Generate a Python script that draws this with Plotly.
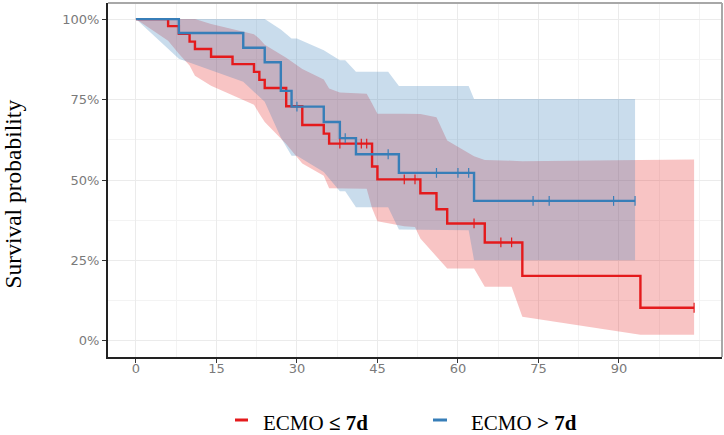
import bisect
import plotly.graph_objects as go

# ---------------- data ----------------
group_names = ["ECMO <b>≤ 7d</b>", "ECMO <b>&gt; 7d</b>"]

# Kaplan-Meier steps, ECMO <= 7d
red_time = [0, 6, 8, 10, 11, 14, 18, 22, 23, 24, 28, 31, 35, 36, 44, 45, 53, 56, 58, 65, 72, 94]
red_surv = [1.0, 0.978, 0.954, 0.930, 0.907, 0.883, 0.860, 0.836, 0.811, 0.786, 0.729, 0.671,
            0.644, 0.613, 0.542, 0.502, 0.459, 0.409, 0.365, 0.306, 0.202, 0.103]
red_last = 104
red_censor = [38, 42, 43, 50, 52, 63, 68, 70, 104]

# confidence band vertices, ECMO <= 7d
red_band_t = [0, 6, 8, 10, 11, 14, 18, 22, 23, 24, 28, 31, 35, 36, 38, 43, 44, 45, 50, 52,
              53, 56, 58, 63, 65, 70, 72, 94, 104]
red_band_lo = [1.0, 0.933, 0.892, 0.856, 0.824, 0.793, 0.763, 0.734, 0.706, 0.680, 0.612, 0.551,
               0.513, 0.474, 0.473, 0.473, 0.412, 0.372, 0.356, 0.354, 0.318, 0.261, 0.225,
               0.225, 0.168, 0.168, 0.075, 0.019, 0.019]
red_band_hi = [1.0, 1.0, 1.0, 1.0, 1.0, 0.985, 0.968, 0.953, 0.939, 0.920, 0.880, 0.845, 0.812,
               0.784, 0.772, 0.768, 0.738, 0.706, 0.706, 0.706, 0.705, 0.695, 0.623, 0.574,
               0.562, 0.560, 0.558, 0.562, 0.564]

# Kaplan-Meier steps, ECMO > 7d
blue_time = [0, 8, 20, 24, 27, 29, 35, 38, 41, 49, 63]
blue_surv = [1.0, 0.957, 0.911, 0.866, 0.777, 0.728, 0.680, 0.630, 0.580, 0.522, 0.435]
blue_last = 93
blue_censor = [30, 39, 47, 56, 60, 62, 74, 77, 89, 93]

# confidence band vertices, ECMO > 7d
blue_band_t = [0, 8, 20, 24, 27, 29, 30, 35, 38, 39, 41, 47, 49, 62, 63, 93]
blue_band_lo = [1.0, 0.877, 0.805, 0.743, 0.632, 0.575, 0.575, 0.525, 0.465, 0.465, 0.415,
                0.415, 0.346, 0.344, 0.251, 0.251]
blue_band_hi = [1.0, 1.0, 1.0, 1.0, 0.968, 0.940, 0.940, 0.903, 0.872, 0.872, 0.836, 0.836,
                0.792, 0.792, 0.752, 0.752]

x_ticks = [0, 15, 30, 45, 60, 75, 90]
y_ticks = [0, 0.25, 0.5, 0.75, 1.0]
y_tick_labels = ["0%", "25%", "50%", "75%", "100%"]

# ---------------- styling ----------------
RED = "#E41A1C"
BLUE = "#377EB8"
RED_FILL = "rgba(228,26,28,0.26)"
BLUE_FILL = "rgba(55,126,184,0.27)"
W, H = 724, 435
ML, MR, MT, MB = 108, 2, 3, 78
PW, PH = W - ML - MR, H - MT - MB


def px_x(px):
    return (px - ML) / PW


def px_y(py):
    return (H - MB - py) / PH


def step_value(times, surv, t):
    i = bisect.bisect_right(times, t) - 1
    return surv[i]


fig = go.Figure()

# confidence bands
for bt, lo, hi, fc in [(red_band_t, red_band_lo, red_band_hi, RED_FILL),
                       (blue_band_t, blue_band_lo, blue_band_hi, BLUE_FILL)]:
    fig.add_trace(go.Scatter(
        x=list(bt) + list(reversed(bt)),
        y=list(hi) + list(reversed(lo)),
        fill="toself", fillcolor=fc, mode="lines", line=dict(width=0),
        hoverinfo="skip", showlegend=False))

# survival step curves
for t, s, last, col, name in [(red_time, red_surv, red_last, RED, group_names[0]),
                              (blue_time, blue_surv, blue_last, BLUE, group_names[1])]:
    fig.add_trace(go.Scatter(
        x=list(t) + [last], y=list(s) + [s[-1]], name=name,
        mode="lines", line=dict(color=col, width=2.4, shape="hv"),
        showlegend=False))

# censor marks
for t, s, cens, col in [(red_time, red_surv, red_censor, RED),
                        (blue_time, blue_surv, blue_censor, BLUE)]:
    fig.add_trace(go.Scatter(
        x=cens, y=[step_value(t, s, c) for c in cens],
        mode="markers",
        marker=dict(symbol="line-ns", size=7, color=col, line=dict(color=col, width=1.2)),
        showlegend=False))

# bottom legend (key dash + label)
legend_shapes = []
legend_annots = []
for name, col, (d0, d1, tx) in zip(group_names, [RED, BLUE], [(235, 248, 262), (433, 447, 470)]):
    legend_shapes.append(dict(type="line", xref="paper", yref="paper",
                              x0=px_x(d0), x1=px_x(d1), y0=px_y(420), y1=px_y(420),
                              line=dict(color=col, width=3)))
    legend_annots.append(dict(text=name, xref="paper", yref="paper",
                              x=px_x(tx), y=px_y(423), xanchor="left", yanchor="middle",
                              showarrow=False, borderpad=0,
                              font=dict(family="Liberation Serif", size=21, color="black")))

tick_font = dict(family="DejaVu Sans", size=13, color="#7a7a7a")

fig.update_layout(
    width=W, height=H, autosize=False,
    margin=dict(l=ML, r=MR, t=MT, b=MB),
    paper_bgcolor="white", plot_bgcolor="white",
    showlegend=False,
    xaxis=dict(range=[-5.2, 109.2], tickvals=x_ticks, ticks="outside", ticklen=4,
               tickcolor="#333333", tickwidth=1.2, tickfont=tick_font, ticklabelstandoff=-6,
               showgrid=True, gridcolor="#ebebeb", gridwidth=1.1,
               minor=dict(dtick=7.5, tick0=0, showgrid=True, gridcolor="#f3f3f3", gridwidth=0.8),
               showline=True, linecolor="#222222", linewidth=2, zeroline=False),
    yaxis=dict(range=[-0.05, 1.05], tickvals=y_ticks, ticktext=y_tick_labels,
               ticks="outside", ticklen=4, tickcolor="#333333", tickwidth=1.2, tickfont=tick_font,
               showgrid=True, gridcolor="#ebebeb", gridwidth=1.1,
               minor=dict(dtick=0.125, tick0=0, showgrid=True, gridcolor="#f3f3f3", gridwidth=0.8),
               showline=True, linecolor="#222222", linewidth=2, zeroline=False),
    shapes=[
        dict(type="line", xref="paper", yref="paper", x0=0, x1=1, y0=1, y1=1,
             line=dict(color="#a8a8a8", width=2)),
        dict(type="line", xref="paper", yref="paper", x0=1, x1=1, y0=0, y1=1,
             line=dict(color="#a8a8a8", width=2)),
    ] + legend_shapes,
    annotations=[
        dict(text="Survival probability", xref="paper", yref="paper",
             x=px_x(12.5), y=px_y(194), xanchor="center", yanchor="middle", textangle=-90,
             showarrow=False, font=dict(family="Liberation Serif", size=23.5, color="black")),
    ] + legend_annots,
)

fig.write_html("out.html", config={"displayModeBar": False},
               post_script="document.body.style.margin='0px';")
